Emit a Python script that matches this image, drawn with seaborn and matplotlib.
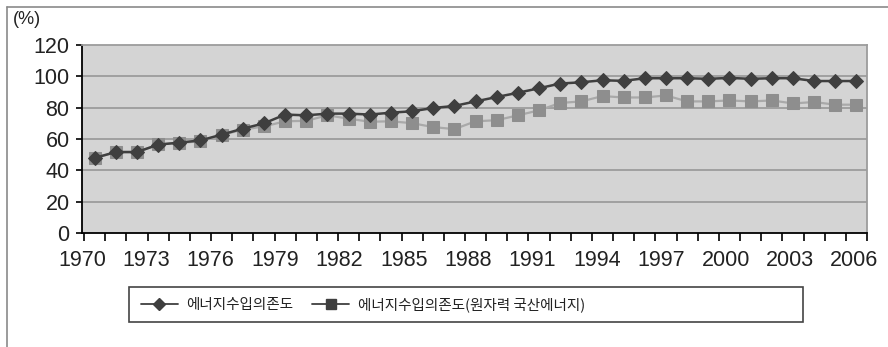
import numpy as np
import pandas as pd
import matplotlib
matplotlib.use("Agg")
import matplotlib.pyplot as plt
from matplotlib.lines import Line2D
from matplotlib.patches import Rectangle
import seaborn as sns

years = list(range(1970, 2007))
dependence = [47.9, 51.7, 51.7, 56.4, 57.7, 59.1, 62.8, 66.6, 70.0,
              75.6, 75.1, 76.2, 76.2, 75.6, 76.8, 77.7, 79.8, 81.1,
              84.0, 86.8, 89.5, 92.4, 95.4, 96.2, 97.5, 97.1, 98.8,
              98.8, 98.8, 98.4, 99.0, 98.4, 98.8, 98.8, 97.0, 97.0, 97.0]
dependence_nuclear = [48.0, 51.5, 51.5, 56.5, 57.5, 58.5, 62.5, 66.0, 68.0,
                      71.3, 71.6, 75.1, 73.0, 71.0, 71.3, 70.1, 67.6, 66.3,
                      71.3, 72.0, 75.1, 78.3, 83.0, 84.0, 87.4, 86.5, 86.5,
                      87.8, 84.0, 84.0, 84.6, 84.0, 84.6, 82.7, 83.6, 81.9, 81.9]
label_years = list(range(1970, 2007, 3))
name1 = "에너지수입의존도"
name2 = "에너지수입의존도(원자력 국산에너지)"

df = pd.DataFrame({"year": years, "dep": dependence, "nuc": dependence_nuclear})

sns.set_style("white")
plt.rcParams['font.family'] = ['Liberation Sans Narrow', 'Liberation Sans', 'Noto Sans CJK KR', 'DejaVu Sans']

W, H = 888, 347
fig = plt.figure(figsize=(W / 100, H / 100), dpi=100)
ax = fig.add_axes([82 / W, 1 - 233 / H, (867 - 82) / W, (233 - 45) / H])
ax.set_facecolor("#d4d4d4")

for y in range(20, 120, 20):
    ax.axhline(y, color="#9c9c9c", lw=1.3, zorder=1)

sns.lineplot(data=df, x="year", y="nuc", ax=ax, color="#a9a9a9", lw=1.6,
             marker="s", markersize=8.5, markerfacecolor="#8e8e8e",
             markeredgecolor="#8e8e8e", zorder=3)
sns.lineplot(data=df, x="year", y="dep", ax=ax, color="#3f3f3f", lw=1.8,
             marker="D", markersize=7.5, markerfacecolor="#3f3f3f",
             markeredgecolor="#3f3f3f", zorder=4)

ax.set_xlim(1969.5, 2006.5)
ax.set_ylim(0, 120)
ax.set_xlabel("")
ax.set_ylabel("")

# labels drift slightly like the original category axis
pos = np.linspace(1969.4, 2005.9, len(label_years))
ax.set_xticks(pos)
ax.set_xticklabels([str(y) for y in label_years])
ax.set_xticks(np.arange(1969.5, 2007, 1), minor=True)
ax.tick_params(axis="x", which="major", length=0, pad=12, labelsize=15.5, colors="#222222")
ax.tick_params(axis="x", which="minor", length=6, width=1.2, color="black", direction="out", bottom=True)
ax.set_yticks(range(0, 121, 20))
ax.tick_params(axis="y", length=4, width=1.2, color="black", direction="out", left=True,
               pad=5, labelsize=15.5, labelcolor="#222222")

for side in ["top", "right"]:
    ax.spines[side].set_visible(True)
    ax.spines[side].set_color("#9c9c9c")
    ax.spines[side].set_linewidth(1.3)
for side in ["left", "bottom"]:
    ax.spines[side].set_color("black")
    ax.spines[side].set_linewidth(1.3)

fig.text(13 / W, 1 - 20 / H, "(%)", fontsize=13, va="center", ha="left", color="#222222")

# outer frame (top and left only)
fig.add_artist(Line2D([7 / W, 1], [1 - 7 / H, 1 - 7 / H], color="#8a8a8a", lw=1.2))
fig.add_artist(Line2D([7 / W, 7 / W], [0, 1 - 7 / H], color="#8a8a8a", lw=1.2))

handles = [
    Line2D([], [], color="#3f3f3f", lw=1.3, marker="D", markersize=6.5, markerfacecolor="#3f3f3f", markeredgecolor="#3f3f3f"),
    Line2D([], [], color="#3f3f3f", lw=1.3, marker="s", markersize=6.5, markerfacecolor="#3f3f3f", markeredgecolor="#3f3f3f"),
]
leg = fig.legend(handles, [name1, name2], loc="center left",
                 bbox_to_anchor=(131 / W, 1 - 304.5 / H), ncol=2, frameon=False,
                 prop={"family": ["Noto Sans CJK KR"], "size": 10.5},
                 handlelength=2.5, handletextpad=0.6, columnspacing=1.3, borderpad=0.2)
for t in leg.get_texts():
    t.set_color("#222222")

fig.add_artist(Rectangle((129 / W, 1 - 322 / H), (803 - 129) / W, (322 - 287) / H,
                         transform=fig.transFigure, fill=False, edgecolor="#444444", lw=1.2))

fig.savefig("out.png", dpi=100, facecolor="white")
